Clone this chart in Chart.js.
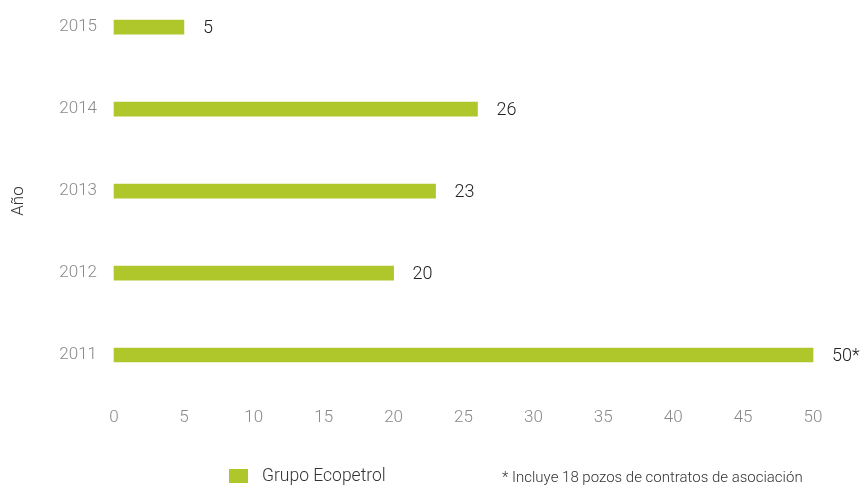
<!DOCTYPE html>
<html><head><meta charset="UTF-8"><title>Pozos perforados</title>
<script src="https://cdn.jsdelivr.net/npm/chart.js@4"></script>
<style>
    html, body { margin: 0; padding: 0; background: #fff; }
    #wrap { width: 860px; height: 487px; position: relative; }
</style></head><body>
<div id="wrap"><canvas id="mainChart"></canvas></div>
<script>
// años de arriba hacia abajo y pozos por año
const years = ['2015', '2014', '2013', '2012', '2011'];
const wells = [5, 26, 23, 20, 50];
const marks = ['', '', '', '', '*'];
const xTicks = [0, 5, 10, 15, 20, 25, 30, 35, 40, 45, 50];
const seriesName = 'Grupo Ecopetrol';
const footNote = '* Incluye 18 pozos de contratos de asociación';
const axisName = 'Año';

const GREEN = '#afc72b';
const FONT = 'Roboto, "Liberation Sans", sans-serif';

// etiquetas de valor a la derecha de cada barra + leyenda y nota al pie
const extras = {
    id: 'extras',
    afterDatasetsDraw(chart) {
        const ctx = chart.ctx;
        const meta = chart.getDatasetMeta(0);
        ctx.save();
        ctx.font = '300 18px ' + FONT;
        ctx.fillStyle = '#222';
        ctx.textAlign = 'left'; ctx.textBaseline = 'middle';
        meta.data.forEach((bar, i) => {
            ctx.fillText(wells[i] + marks[i], bar.x + 19, bar.y + 1);
        });

        // leyenda
        ctx.fillStyle = chart.data.datasets[0].backgroundColor;
        ctx.fillRect(229, 469, 19, 14);
        ctx.fillStyle = '#333';
        ctx.font = '300 17.5px ' + FONT;
        ctx.fillText(chart.data.datasets[0].label, 262, 477);
        ctx.font = '300 15px ' + FONT;
        ctx.fillText(footNote, 502, 478);

        // título del eje
        ctx.translate(19, 201);
        ctx.rotate(-Math.PI / 2);
        ctx.textAlign = 'center';
        ctx.font = '300 17px ' + FONT;
        ctx.fillText(axisName, 0, 0);
        ctx.restore();
    }
};

new Chart(document.getElementById('mainChart'), {
    type: 'bar',
    data: {
        labels: years,
        datasets: [{ label: seriesName, data: wells, backgroundColor: GREEN, barThickness: 14, clip: false }]
    },
    options: {
        indexAxis: 'y',
        responsive: true, maintainAspectRatio: false, animation: false,
        layout: { padding: { top: 25, right: 47, bottom: 52, left: 0 } },
        plugins: { legend: { display: false }, tooltip: { enabled: false } },
        scales: {
            y: {
                offset: false,
                grid: { display: false, drawTicks: false }, border: { display: false },
                ticks: { color: '#8a8a8a', padding: 17, font: { family: FONT, size: 17, weight: 300 } },
                afterFit(s) { s.width = 114; }
            },
            x: {
                min: 0, max: 50,
                grid: { display: false, drawTicks: false }, border: { display: false },
                afterBuildTicks(s) { s.ticks = xTicks.map(v => ({ value: v })); },
                ticks: { color: '#8a8a8a', padding: 53, font: { family: FONT, size: 17, weight: 300 } },
                // el padding de los ticks no debe comerse el ancho del área
                afterFit(s) { s.height = 80; s.paddingLeft = 0; s.paddingRight = 0; }
            }
        }
    },
    plugins: [extras]
});
</script></body></html>
